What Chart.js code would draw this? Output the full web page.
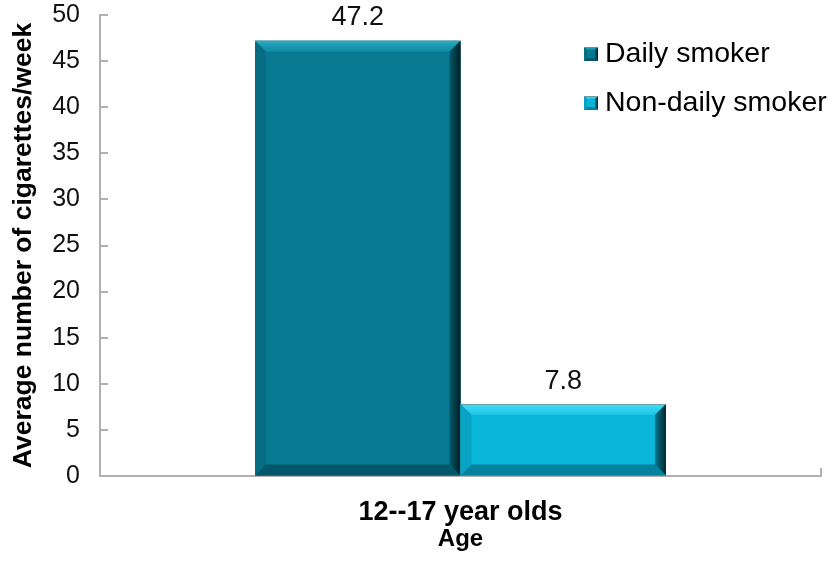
<!DOCTYPE html>
<html>
<head>
<meta charset="utf-8">
<script src="https://cdn.jsdelivr.net/npm/chart.js@4.4.0/dist/chart.umd.min.js"></script>
<style>
  html, body { margin: 0; padding: 0; background: #fff; }
  #wrap { width: 833px; height: 564px; }
</style>
</head>
<body>
<div id="wrap"><canvas id="smokeChart"></canvas></div>
<script>
const categories = ['12--17 year olds'];
const seriesNames = ['Daily smoker', 'Non-daily smoker'];
const dailyValues = [47.2];
const nonDailyValues = [7.8];
const yMin = 0;
const yMax = 50;
const yStep = 5;

const FONT = '"Liberation Sans", Arial, Helvetica, sans-serif';
const AXIS_GREY = '#b0b0b0';

// shading for the bevelled bars (main face, light top edge, dark right edge...)
const palettes = [
  { face: '#077a91', topHi: '#2aa9c0', top: '#0a8aa2', left: '#066d82', bottom: '#04566a', right: '#045a6c', edge: '#011c22' },
  { face: '#09b5d9', topHi: '#46e0f7', top: '#18c3e4', left: '#08a3c4', bottom: '#06829e', right: '#05758e', edge: '#012a33' }
];

function bevelRect(ctx, l, t, r, b, bv, pal) {
  ctx.save();
  ctx.fillStyle = pal.face;
  ctx.fillRect(l, t, r - l, b - t);

  // top edge
  let g = ctx.createLinearGradient(0, t, 0, t + bv);
  g.addColorStop(0, pal.topHi);
  g.addColorStop(1, pal.top);
  ctx.fillStyle = g;
  ctx.beginPath();
  ctx.moveTo(l, t); ctx.lineTo(r, t); ctx.lineTo(r - bv, t + bv); ctx.lineTo(l + bv, t + bv);
  ctx.closePath(); ctx.fill();

  // left edge
  ctx.fillStyle = pal.left;
  ctx.beginPath();
  ctx.moveTo(l, t); ctx.lineTo(l + bv, t + bv); ctx.lineTo(l + bv, b - bv); ctx.lineTo(l, b);
  ctx.closePath(); ctx.fill();

  // bottom edge
  ctx.fillStyle = pal.bottom;
  ctx.beginPath();
  ctx.moveTo(l, b); ctx.lineTo(l + bv, b - bv); ctx.lineTo(r - bv, b - bv); ctx.lineTo(r, b);
  ctx.closePath(); ctx.fill();

  // right edge, dark towards the outside
  g = ctx.createLinearGradient(r - bv, 0, r, 0);
  g.addColorStop(0, pal.right);
  g.addColorStop(1, pal.edge);
  ctx.fillStyle = g;
  ctx.beginPath();
  ctx.moveTo(r, t); ctx.lineTo(r, b); ctx.lineTo(r - bv, b - bv); ctx.lineTo(r - bv, t + bv);
  ctx.closePath(); ctx.fill();

  ctx.strokeStyle = 'rgba(120,140,145,0.8)';
  ctx.lineWidth = 1;
  ctx.beginPath();
  ctx.moveTo(l, t + 0.5); ctx.lineTo(r, t + 0.5);
  ctx.stroke();
  ctx.restore();
}

const barDecor = {
  id: 'barDecor',
  afterDatasetsDraw(chart) {
    const ctx = chart.ctx;
    chart.data.datasets.forEach((ds, i) => {
      chart.getDatasetMeta(i).data.forEach((el, j) => {
        const p = el.getProps(['x', 'y', 'base', 'width'], true);
        const l = p.x - p.width / 2, r = p.x + p.width / 2;
        const bv = Math.min(11, (p.base - p.y) / 2);
        bevelRect(ctx, l, p.y, r, p.base, bv, palettes[i]);

        // value above the bar
        ctx.save();
        ctx.fillStyle = '#111';
        ctx.font = '27px ' + FONT;
        ctx.textAlign = 'center';
        ctx.textBaseline = 'middle';
        ctx.fillText(String(ds.data[j]), p.x, p.y - 23);
        ctx.restore();
      });
    });
  },
  afterDraw(chart) {
    const ctx = chart.ctx;
    const ys = chart.scales.y;
    const xs = chart.scales.x;
    const area = chart.chartArea;
    ctx.save();
    ctx.strokeStyle = AXIS_GREY;
    ctx.lineWidth = 2;
    // inward tick marks on the value axis
    ys.ticks.forEach(t => {
      const py = Math.round(ys.getPixelForValue(t.value));
      ctx.beginPath();
      ctx.moveTo(area.left, py);
      ctx.lineTo(area.left + 8, py);
      ctx.stroke();
    });
    // closing tick at the end of the category axis
    ctx.beginPath();
    ctx.moveTo(area.right, xs.top);
    ctx.lineTo(area.right, xs.top - 8);
    ctx.stroke();

    // legend
    const lx = 584, ly = [54, 103];
    ctx.font = '28.5px ' + FONT;
    ctx.textBaseline = 'middle';
    ctx.textAlign = 'left';
    chart.data.datasets.forEach((ds, i) => {
      bevelRect(ctx, lx, ly[i] - 7, lx + 14, ly[i] + 7, 3, palettes[i]);
      ctx.fillStyle = '#000';
      ctx.fillText(ds.label, lx + 21, ly[i]);
    });
    ctx.restore();
  }
};

new Chart(document.getElementById('smokeChart'), {
  type: 'bar',
  data: {
    labels: categories,
    datasets: [
      { label: seriesNames[0], data: dailyValues, backgroundColor: palettes[0].face, borderWidth: 0 },
      { label: seriesNames[1], data: nonDailyValues, backgroundColor: palettes[1].face, borderWidth: 0 }
    ]
  },
  options: {
    responsive: true,
    maintainAspectRatio: false,
    animation: false,
    layout: { padding: { top: 15, right: 12, left: 0, bottom: 0 } },
    datasets: { bar: { barPercentage: 1, categoryPercentage: 0.57 } },
    plugins: { legend: { display: false }, tooltip: { enabled: false } },
    scales: {
      x: {
        grid: { display: false },
        border: { color: AXIS_GREY, width: 2 },
        ticks: { color: '#000', padding: 12, font: { family: FONT, size: 27, weight: 'bold' } },
        title: { display: true, text: 'Age', color: '#000', padding: { top: 0, bottom: 10 },
                 font: { family: FONT, size: 24, weight: 'bold' } },
        afterFit(scale) { scale.height = 88; }
      },
      y: {
        min: yMin,
        max: yMax,
        grid: { drawOnChartArea: false, drawTicks: false },
        border: { color: AXIS_GREY, width: 2 },
        ticks: { stepSize: yStep, color: '#111', padding: 20, font: { family: FONT, size: 25 } },
        title: { display: true, text: 'Average number of cigarettes/week', color: '#000',
                 padding: { top: 8, bottom: 0 }, font: { family: FONT, size: 26.5, weight: 'bold' } },
        afterFit(scale) {
          scale.width = 100;
          scale.paddingTop = 0;
          scale.paddingBottom = 0;
        }
      }
    }
  },
  plugins: [barDecor]
});
</script>
</body>
</html>
